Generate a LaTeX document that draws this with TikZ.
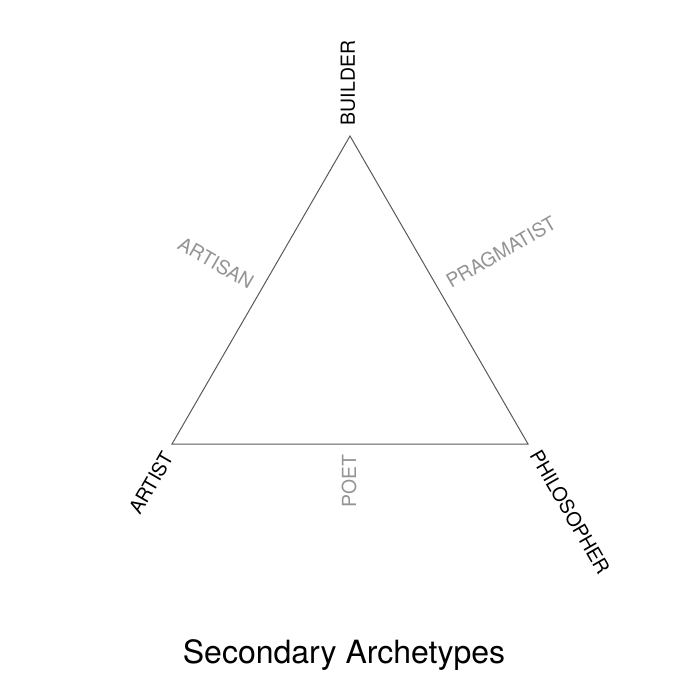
\documentclass[tikz,border=0pt]{standalone}
\usepackage{fontspec}
\setmainfont{TeX Gyre Heros}
\begin{document}
\begin{tikzpicture}[x=0.5pt, y=-0.5pt,
    primary/.style={font=\fontsize{9.7}{11}\selectfont, text=black, inner sep=0pt},
    secondary/.style={font=\fontsize{9.7}{11}\selectfont, text=black!42, inner sep=0pt}]
    \useasboundingbox (0,0) rectangle (700,700);

    \coordinate (top) at (350,136);
    \coordinate (left) at (172,444);
    \coordinate (right) at (528,444);
    \draw[line width=0.5pt, black!65] (top) -- (right) -- (left) -- cycle;

    \node[primary, rotate=90] (builder) at (348,83) {BUILDER};
    \node[primary, rotate=60] (artist) at (151,483) {ARTIST};
    \node[primary, rotate=-60] (philosopher) at (570,512) {PHILOSOPHER};

    \node[secondary, rotate=-30] (artisan) at (216,263) {ARTISAN};
    \node[secondary, rotate=30] (pragmatist) at (501,252) {PRAGMATIST};
    \node[secondary, rotate=90] (poet) at (349,481) {POET};

    \node[font=\fontsize{16}{19}\selectfont, inner sep=0pt] (title) at (344,655) {Secondary Archetypes};
\end{tikzpicture}
\end{document}
